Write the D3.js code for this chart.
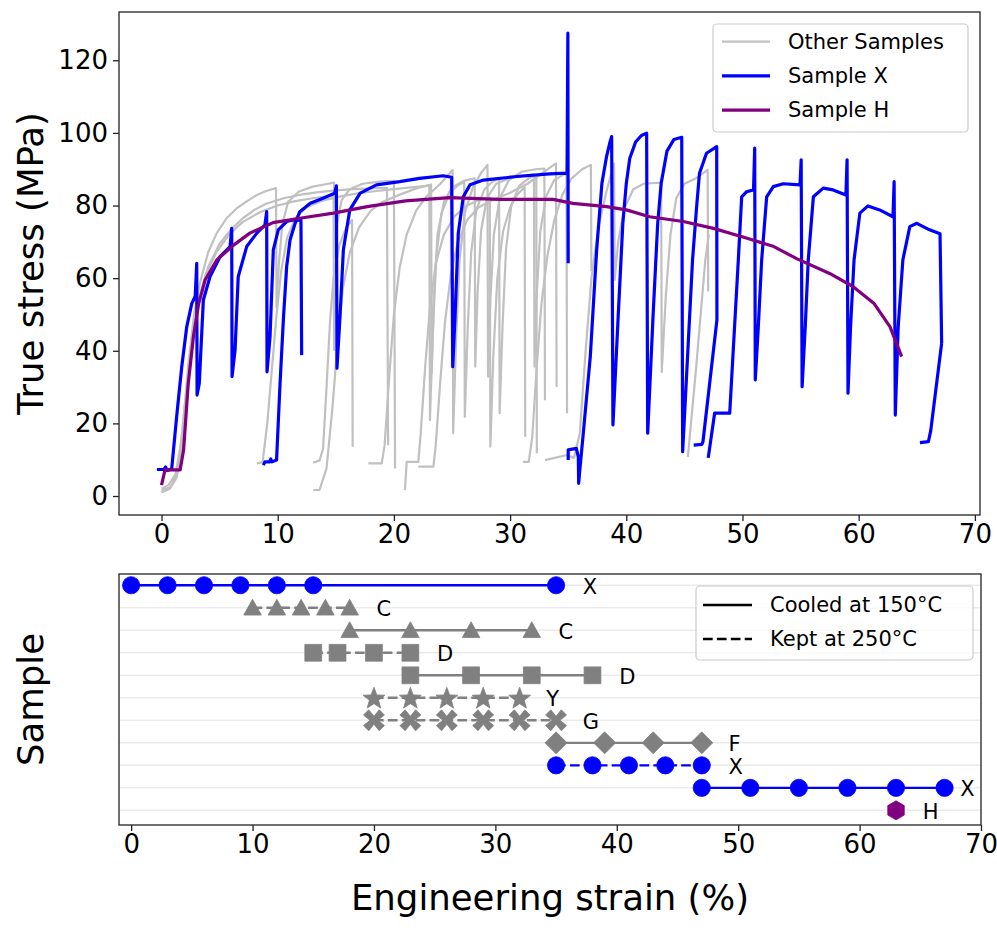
<!DOCTYPE html>
<html><head><meta charset="utf-8">
<script src="https://cdn.jsdelivr.net/npm/d3@7"></script>
<style>body{margin:0;background:#fff} text{font-family:"DejaVu Sans",sans-serif;fill:#000}</style>
</head><body><svg id="c" width="997" height="931"></svg>
<script>
// ---------------- DATA ----------------
const xTickValues = [0,10,20,30,40,50,60,70];
const yTickValues = [0,20,40,60,80,100,120];

// Sample H (purple): [strain %, true stress MPa]
const sampleH = [[0,3],[0.3,7.2],[0.6,7.2],[1.6,7.2],[1.9,12.7],[2.3,31],[2.75,44],[3.2,53],[3.75,59.5],[4.75,65],[6.2,69.1],[7.6,72.4],[9.6,75.3],[11.9,76.5],[14.8,77.9],[17.7,79.7],[21,81.3],[24.8,82.2],[29.1,81.7],[33.7,81.7],[35.4,80.6],[38.3,79.7],[40,78.8],[42,76.9],[44.9,75.6],[47.5,73.7],[50.4,71],[52.7,68.7],[54.7,65.3],[57.5,61.3],[59.5,57.7],[61.3,53.1],[62.7,46.6],[63.7,38.4]];

// Sample X (blue) runs
const sampleXRun1 = [[-0.4,7.3],[0.2,7.3],[0.35,8],[0.5,7],[0.75,7.3],[0.88,7.6],[1.3,21.8],[1.74,35.6],[2.17,46.6],[2.6,53],[2.9,55],[3.03,64.1],[3.06,27.8],[3.25,31],[3.6,54],[4.17,60.4],[5.03,65.9],[5.9,68.7],[6.04,73.7],[6.07,32.9],[6.33,40.2],[6.6,60.4],[7.33,68.7],[8.2,72.4],[8.9,74.7],[9.05,78.3],[9.08,34.2],[9.34,43.9],[9.62,67.8],[10.05,73.3],[10.77,75.6],[11.3,76],[12.0,76],[12.06,38.8]];
const sampleXRun2 = [[8.76,8.5],[8.9,9.4],[9.3,9.4],[9.4,10.2],[9.5,9.4],[9.9,9.9],[10.2,31],[10.5,49.4],[10.77,63.2],[11.06,70.5],[11.5,75.1],[11.9,78.3],[12.8,80.6],[13.9,82],[14.9,83.4],[15.05,85.4],[15.1,35.2],[15.36,49.4],[15.65,67.8],[16.2,78.8],[17.1,83.4],[18.5,85.7],[20.5,86.6],[22.2,87.5],[24.25,88.2],[24.97,87.8],[25.06,35.6],[25.26,49.4],[25.54,72.4],[25.97,82.4],[26.55,85.7],[27.7,87],[30.6,88],[33.4,88.7],[34.9,88.9],[34.97,127.5],[35.0,64.1]];
const sampleXRun3 = [[35.0,9.9],[35.0,12.7],[35.7,13.1],[35.87,10.8],[35.9,3.5],[36.0,7.2],[36.3,17.3],[36.9,38.4],[37.45,67.8],[37.9,86.1],[38.3,93.5],[38.6,97.5],[38.74,99],[38.85,19.6],[39.3,49.4],[39.7,75],[40.0,86.1],[40.3,93],[40.8,97.5],[41.3,99.3],[41.75,99.9],[41.84,17.3],[42.3,49.4],[42.7,75],[43.0,86.1],[43.5,95],[44.1,98.2],[44.77,98.8],[44.85,12.2],[45.3,40.2],[45.7,65],[46.06,80],[46.3,88.9],[46.9,94.4],[47.78,96.2],[47.8,48.5],[46.6,15],[46.5,14.2],[45.8,14]];
const sampleXRun4 = [[47.05,10.5],[47.6,22.8],[48.9,22.8],[49.64,65],[49.93,82.4],[50.36,83.8],[50.95,84.3],[51.05,95.8],[51.1,32],[51.36,46.6],[51.65,65],[52.08,82.4],[52.65,85.2],[53.5,86],[54.95,85.7],[55.05,92.6],[55.13,30.1],[55.4,46.6],[55.66,65],[56.1,82.4],[56.95,84.8],[57.8,84.3],[58.9,82.9],[59.0,92.6],[59.08,28.3],[59.3,46.6],[59.6,65],[60.1,77.9],[60.8,79.9],[61.8,78.8],[62.95,76.9],[63.05,86.6],[63.15,22.3],[63.4,46.6],[63.8,65],[64.4,74.2],[65,75.1],[66.1,73.3],[67.0,72.2],[67.14,42.1]];
const sampleXRun5 = [[65.27,14.7],[66.0,15],[66.2,18],[67.14,42.1]];

// Other samples (grey)
const other1 = [[0,1.5],[0.8,2.5],[1.4,7],[1.8,18],[2.3,36],[2.8,50],[3.3,58.6],[4,67],[4.75,72.4],[5.6,76.5],[6.5,79.3],[7.4,81.3],[8.2,82.9],[9,84],[9.85,84.8],[9.9,52],[10.1,64],[10.4,75],[10.9,81],[11.8,83.8],[13,85.2],[14,85.8],[14.85,86.3],[14.9,66],[15.1,75],[15.5,81.5],[16.2,84.5],[17.3,86],[18.8,86.6],[20.0,86.8],[20.1,7.6]];
const other2 = [[0,1],[0.7,2],[1.3,5],[1.8,15],[2.3,32],[2.8,46],[3.3,55],[4,63],[5,69.5],[6,73.5],[7,76.5],[8,78.8],[9,80.5],[10.5,82],[12,83],[13.5,83.7],[15,84.2],[16.5,84.5],[18,84.7],[19.4,84.9],[19.5,14]];
const other3 = [[0,2],[0.6,3],[1.2,6],[1.7,15],[2.2,31],[2.7,45],[3.2,54],[3.8,61],[4.7,67],[5.8,72],[7,75.5],[8.5,78.2],[10,80],[11.5,81.2],[13,82],[14.8,82.8],[14.85,40]];
const other4 = [[8.2,9],[8.7,9.3],[9.1,20],[9.5,35],[9.9,50],[10.3,62],[10.8,71],[11.5,76.5],[12.5,79.5],[14,81.5],[15.5,82.6],[17,83.4],[18.5,84],[20,84.5],[21.5,85],[23.05,85.5],[23.1,20.9],[23.35,45],[23.65,66],[24.1,78],[24.8,83.5],[25.5,85.6],[26.05,86.5],[26.1,21.8],[26.35,46],[26.65,67],[27.1,79],[27.8,84.5],[28.5,86.6],[29.05,87.4],[29.1,22.8],[29.35,47],[29.65,68],[30.1,80],[30.8,85.5],[31.6,87.5],[32.25,88.2],[32.3,11.8]];
const other5 = [[13.06,9.2],[13.6,9.8],[13.9,13],[14.2,30],[14.5,48],[14.8,60],[15.3,69],[15.9,74],[16.4,76],[16.45,13.6]];
const other6 = [[13.06,1.65],[13.6,1.65],[14.2,7.6],[14.7,24],[15.2,44],[15.6,57],[16.2,67],[17,74],[18,78.5],[19,81],[20.5,83],[22,84.8],[23.2,85.8],[23.25,33.8],[23.45,55],[23.75,72],[24.3,81],[25,85],[26,86.8],[26.95,87.5],[27,35.6],[27.2,56],[27.5,73],[28,82],[28.8,86],[30,87.6],[31.2,88.3],[32.05,88.6],[32.1,35.6],[32.3,56],[32.6,73],[33.1,82.5],[33.8,87],[34.85,89],[34.9,22.8]];
const other7 = [[17.8,9],[18.95,9],[19.2,14],[19.6,33],[20,50],[20.5,63],[21.1,72],[21.9,78.5],[22.8,82.5],[24,86],[25.05,89.8],[25.1,17.3],[25.35,43],[25.65,65],[26.1,78],[26.8,85],[27.5,89],[28.05,91.2],[28.1,32.9],[28.3,54],[28.6,72],[29.1,82],[29.9,87],[31,89.3],[32.2,90],[32.95,90.2],[33.0,26.4]];
const other8 = [[20.95,1.65],[21.1,9.4],[22.1,9.4],[22.3,17],[22.7,36],[23.1,52],[23.6,64],[24.3,72],[25.2,77],[26.3,80],[27.3,81.5],[28.25,82.2],[28.3,13.6],[28.55,38],[28.9,60],[29.4,73],[30,79.5],[30.6,83],[31.25,85],[31.3,16.3]];
const other9 = [[22.1,8.1],[23.4,8.1],[23.6,14],[24,32],[24.4,48],[24.9,61],[25.5,70],[26.3,76],[27.3,79.5],[28.5,81.5],[30,83.5],[31.5,86],[33,89.5],[33.95,91.6],[34.0,30]];
const other10 = [[31.1,9.4],[31.6,9.4],[31.9,16],[32.3,36],[32.7,53],[33.2,66],[33.8,76],[34.5,83],[35.3,87.5],[36.2,90],[36.95,91.2],[37.0,62]];
const other11 = [[33,9.9],[34.9,11.3],[35.5,10.5],[36.0,17.3],[36.5,40],[37,60],[37.6,74],[38.3,84],[38.95,91.6],[39.0,59.5],[39.3,70],[39.8,79],[40.6,84.5],[41.5,86],[43.0,86.3],[43.05,34.2],[43.4,55],[43.8,72],[44.3,82],[45,86],[46,87.5],[47.0,89.8],[47.05,56.3]];
const other12 = [[45.3,10.8],[46.0,35],[46.8,65],[47.1,72]];

// Bottom panel: test schedule
const rowNames = ["X","C","C","D","D","Y","G","F","X","X","H"];
const rowStrains = [[0,3,6,9,12,15,35],[10,12,14,16,18],[18,23,28,33],[15,17,20,23],[23,28,33,38],[20,23,26,29,32],[20,23,26,29,32,35],[35,39,43,47],[35,38,41,44,47],[47,51,55,59,63,67],[63]];
const rowCondition = ["cooled","kept","cooled","kept","cooled","kept","kept","cooled","kept","cooled","cooled"];
const rowMarker = ["circle","triangle","triangle","square","square","star","xfilled","diamond","circle","circle","hexagon"];

const topLegend = ["Other Samples","Sample X","Sample H"];
const bottomLegend = ["Cooled at 150°C","Kept at 250°C"];

// ---------------- STYLE ----------------
const BLUE = "#0000ff", PURPLE = "#800080", SILVER = "#c0c0c0", GREY = "#808080", AX = "#222";
const sampleColor = n => n === "X" ? BLUE : (n === "H" ? PURPLE : GREY);

const svg = d3.select("#c");

// ---------------- TOP PANEL ----------------
const T = {l:119, r:980, t:12, b:515};
const tx = d3.scaleLinear().domain([-3.66, 70.44]).range([T.l, T.r]);
const ty = d3.scaleLinear().domain([-5.23, 133.3]).range([T.b, T.t]);

svg.append("defs").append("clipPath").attr("id","clipTop")
  .append("rect").attr("x",T.l).attr("y",T.t).attr("width",T.r-T.l).attr("height",T.b-T.t);

const line = d3.line().x(d => tx(d[0])).y(d => ty(d[1]));
const gTop = svg.append("g").attr("clip-path","url(#clipTop)");
const others = [other1,other2,other3,other4,other5,other6,other7,other8,other9,other10,other11,other12];
gTop.selectAll("path.o").data(others).join("path").attr("class","o")
  .attr("d", line).attr("fill","none").attr("stroke",SILVER).attr("stroke-width",2.2)
  .attr("stroke-linejoin","round");
const xRuns = [sampleXRun1,sampleXRun2,sampleXRun3,sampleXRun4,sampleXRun5];
gTop.selectAll("path.x").data(xRuns).join("path").attr("class","x")
  .attr("d", line).attr("fill","none").attr("stroke",BLUE).attr("stroke-width",3.2)
  .attr("stroke-linejoin","round");
gTop.append("path").datum(sampleH).attr("d", line).attr("fill","none")
  .attr("stroke",PURPLE).attr("stroke-width",3.2).attr("stroke-linejoin","round");

// axes top
const axTB = svg.append("g").attr("transform",`translate(0,${T.b})`)
  .call(d3.axisBottom(tx).tickValues(xTickValues).tickSize(6).tickPadding(3.5).tickFormat(d3.format("d")));
const axTL = svg.append("g").attr("transform",`translate(${T.l},0)`)
  .call(d3.axisLeft(ty).tickValues(yTickValues).tickSize(6).tickPadding(5).tickFormat(d3.format("d")));
[axTB, axTL].forEach(a => {
  a.select(".domain").remove();
  a.selectAll("line").attr("stroke",AX).attr("stroke-width",1.3);
  a.selectAll("text").attr("font-size",26).attr("font-family","DejaVu Sans").attr("fill","#000");
});
svg.append("rect").attr("x",T.l).attr("y",T.t).attr("width",T.r-T.l).attr("height",T.b-T.t)
  .attr("fill","none").attr("stroke",AX).attr("stroke-width",1.3);

svg.append("text").attr("transform","translate(43,263.5) rotate(-90)")
  .attr("text-anchor","middle").attr("font-size",35.5).text("True stress (MPa)");

// top legend
const lg = svg.append("g");
lg.append("rect").attr("x",713).attr("y",24).attr("width",255).attr("height",108).attr("rx",4)
  .attr("fill","#fff").attr("fill-opacity",0.8).attr("stroke","#cccccc").attr("stroke-width",1.2);
const legCols = [SILVER, BLUE, PURPLE], legW = [2.2, 3.2, 3.2];
topLegend.forEach((t,i) => {
  const y = 41.7 + i*34.2;
  lg.append("line").attr("x1",722).attr("x2",770).attr("y1",y).attr("y2",y)
    .attr("stroke",legCols[i]).attr("stroke-width",legW[i]);
  lg.append("text").attr("x",788).attr("y",y).attr("dominant-baseline","central")
    .attr("font-size",21).text(t);
});

// ---------------- BOTTOM PANEL ----------------
const B = {l:119, r:981, t:574, b:825};
const bx = d3.scaleLinear().domain([-1, 70]).range([B.l, B.r]);
const by = d3.scaleLinear().domain([-0.5, 10.65]).range([B.t, B.b]);

// row grid lines
svg.append("g").selectAll("line").data(rowNames.map((d,i)=>i)).join("line")
  .attr("x1",B.l).attr("x2",B.r).attr("y1",d=>by(d)).attr("y2",d=>by(d))
  .attr("stroke","#ebebeb").attr("stroke-width",1.5);

function markerPath(type){
  const p = d3.path();
  const poly = pts => { pts.forEach((q,i)=> i? p.lineTo(q[0],q[1]) : p.moveTo(q[0],q[1])); p.closePath(); };
  if (type === "circle") { p.arc(0,0,8.6,0,2*Math.PI); p.closePath(); }
  else if (type === "triangle") poly([[0,-8.5],[-8.8,7.3],[8.8,7.3]]);
  else if (type === "square") poly([[-8.4,-8.4],[8.4,-8.4],[8.4,8.4],[-8.4,8.4]]);
  else if (type === "diamond") poly([[0,-11],[11,0],[0,11],[-11,0]]);
  else if (type === "hexagon") poly(d3.range(6).map(k=>{const a=(-90+60*k)*Math.PI/180; return [9.5*Math.cos(a),9.5*Math.sin(a)];}));
  else if (type === "star") poly(d3.range(10).map(k=>{const a=(-90+36*k)*Math.PI/180, r = k%2? 11.5*0.42 : 11.5; return [r*Math.cos(a), r*Math.sin(a)+1];}));
  else if (type === "xfilled") {
    const s = 10.5;
    poly([[-1,-0.5],[-0.5,-1],[0,-0.38],[0.5,-1],[1,-0.5],[0.38,0],[1,0.5],[0.5,1],[0,0.38],[-0.5,1],[-1,0.5],[-0.38,0]].map(q=>[q[0]*s,q[1]*s]));
  }
  return p.toString();
}

const gRows = svg.append("g");
rowNames.forEach((name, r) => {
  const xs = rowStrains[r], col = sampleColor(name), y = by(r);
  if (xs.length > 1) {
    gRows.append("line").attr("x1",bx(d3.min(xs))).attr("x2",bx(d3.max(xs)))
      .attr("y1",y).attr("y2",y).attr("stroke",col).attr("stroke-width",2.4)
      .attr("stroke-dasharray", rowCondition[r] === "kept" ? "9.7,4.2" : null);
  }
  gRows.selectAll(null).data(xs).join("path")
    .attr("transform", d => `translate(${bx(d)},${y})`)
    .attr("d", markerPath(rowMarker[r])).attr("fill", col)
    .attr("stroke", col).attr("stroke-width", 0.8).attr("stroke-linejoin","round");
  const lx = Math.min(d3.max(xs) + 2.2, 68.3);
  gRows.append("text").attr("x", bx(lx)).attr("y", y + 1.5).attr("dominant-baseline","central")
    .attr("font-size",21).text(name);
});

const axBB = svg.append("g").attr("transform",`translate(0,${B.b})`)
  .call(d3.axisBottom(bx).tickValues(xTickValues).tickSize(6).tickPadding(3.5).tickFormat(d3.format("d")));
axBB.select(".domain").remove();
axBB.selectAll("line").attr("stroke",AX).attr("stroke-width",1.3);
axBB.selectAll("text").attr("font-size",26).attr("font-family","DejaVu Sans").attr("fill","#000");
svg.append("rect").attr("x",B.l).attr("y",B.t).attr("width",B.r-B.l).attr("height",B.b-B.t)
  .attr("fill","none").attr("stroke",AX).attr("stroke-width",1.3);

svg.append("text").attr("transform",`translate(43,${(B.t+B.b)/2}) rotate(-90)`)
  .attr("text-anchor","middle").attr("font-size",35.5).text("Sample");
svg.append("text").attr("x",(B.l+B.r)/2).attr("y",910).attr("text-anchor","middle")
  .attr("font-size",35.5).text("Engineering strain (%)");

// bottom legend
const lg2 = svg.append("g");
lg2.append("rect").attr("x",696).attr("y",586).attr("width",277).attr("height",74).attr("rx",4)
  .attr("fill","#fff").attr("fill-opacity",0.8).attr("stroke","#cccccc").attr("stroke-width",1.2);
bottomLegend.forEach((t,i) => {
  const y = 605 + i*34;
  lg2.append("line").attr("x1",703).attr("x2",752).attr("y1",y).attr("y2",y)
    .attr("stroke","#000").attr("stroke-width",2.4).attr("stroke-dasharray", i ? "9.7,4.2" : null);
  lg2.append("text").attr("x",770).attr("y",y).attr("dominant-baseline","central")
    .attr("font-size",21).text(t);
});
</script></body></html>
